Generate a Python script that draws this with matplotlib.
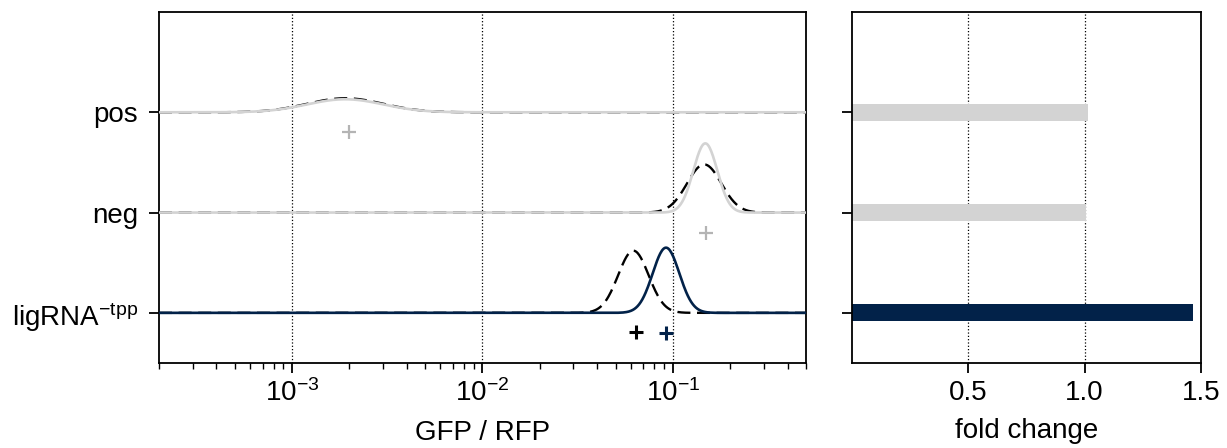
import matplotlib
matplotlib.use("Agg")
import matplotlib.pyplot as plt
import numpy as np

plt.rcParams['font.family'] = ['Liberation Sans', 'DejaVu Sans']
plt.rcParams['mathtext.fontset'] = 'custom'
plt.rcParams['mathtext.rm'] = 'Liberation Sans'
plt.rcParams['mathtext.it'] = 'Liberation Sans:italic'
plt.rcParams['mathtext.default'] = 'regular'

# rows, bottom to top
labels = ['ligRNA$^{\u2212tpp}$', 'neg', 'pos']
rows = [0, 1, 2]
colors = ['#022249', '#d3d3d3', '#d3d3d3']
plus_colors = ['#022249', '#b4b4b4', '#b4b4b4']

# reference (dashed) distributions: median GFP/RFP, spread (log10), peak height
ref_center = [0.062, 0.146, 0.0019]
ref_sigma = [0.08, 0.09, 0.2]
ref_height = [0.62, 0.48, 0.14]

# sample (solid) distributions
smp_center = [0.092, 0.148, 0.0019]
smp_sigma = [0.07, 0.063, 0.2]
smp_height = [0.65, 0.69, 0.13]

# medians shown as '+'
ref_median = [0.064, None, None]
smp_median = [0.092, 0.149, 0.002]

fold_change = [1.465, 1.006, 1.014]

fig = plt.figure(figsize=(12.27, 4.48), dpi=100)
ax = fig.add_axes([159/1227, 1-363/448, 647/1227, 351/448])
ax2 = fig.add_axes([852/1227, 1-363/448, 349/1227, 351/448])

lx = np.linspace(np.log10(2e-4), np.log10(0.5), 800)
xs = 10**lx

for i, r in enumerate(rows):
    yd = r + ref_height[i]*np.exp(-0.5*((lx-np.log10(ref_center[i]))/ref_sigma[i])**2)
    ys = r + smp_height[i]*np.exp(-0.5*((lx-np.log10(smp_center[i]))/smp_sigma[i])**2)
    ax.plot(xs, yd, color='black', ls=(0, (5.5, 2.8)), lw=1.7, zorder=2)
    ax.plot(xs, ys, color=colors[i], lw=1.9, zorder=3)
    if ref_median[i] is not None:
        ax.plot(ref_median[i], r-0.19, marker='+', color='black', ms=10, mew=2.2, zorder=4)
    ax.plot(smp_median[i], r-0.2, marker='+', color=plus_colors[i], ms=10,
            mew=2.2 if i == 0 else 1.6, zorder=4)

ax.set_xscale('log')
ax.set_xlim(2e-4, 0.5)
ax.set_ylim(-0.5, 3.0)
ax.set_yticks(rows)
ax.set_yticklabels(labels)
ax.set_xlabel('GFP / RFP', fontsize=20, labelpad=9)
ax.grid(axis='x', which='major', color='black', ls=':', lw=0.9)

ax2.barh(rows, fold_change, height=0.17, color=colors)
ax2.set_xlim(0, 1.5)
ax2.set_ylim(-0.5, 3.0)
ax2.set_yticks(rows)
ax2.set_yticklabels([])
ax2.set_xticks([0.5, 1.0, 1.5])
ax2.set_xticklabels(['0.5', '1.0', '1.5'])
ax2.set_xlabel('fold change', fontsize=20, labelpad=9)
ax2.grid(axis='x', color='black', ls=':', lw=0.9)
ax2.set_axisbelow(True)

for a in (ax, ax2):
    a.tick_params(which='major', length=7, width=1.3, labelsize=20)
    a.tick_params(which='minor', length=4, width=1.0)
    a.tick_params(axis='x', which='major', pad=5)
    a.tick_params(axis='y', which='major', pad=8)
    for s in a.spines.values():
        s.set_linewidth(1.3)

fig.savefig('out.png', dpi=100)
